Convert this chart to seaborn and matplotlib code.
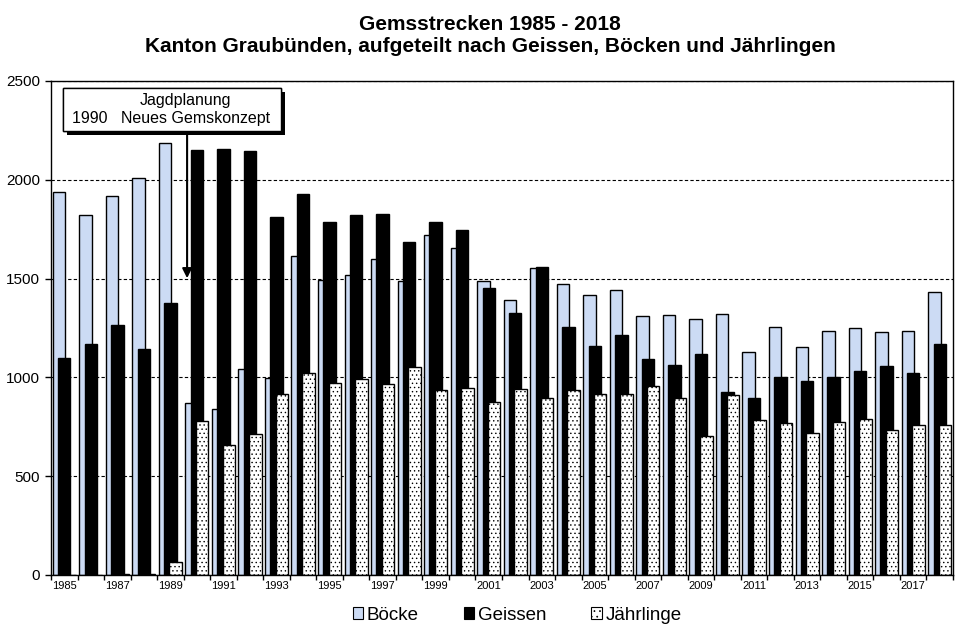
import pandas as pd
import matplotlib as mpl
import matplotlib.pyplot as plt
import matplotlib.patheffects as pe
from matplotlib.patches import Patch, Rectangle
import seaborn as sns

# Gemsstrecken Graubünden 1985 - 2018
jahre = list(range(1985, 2019))
boecke = [1936, 1820, 1916, 2007, 2184, 869, 838, 1041, 998, 1614,
          1493, 1516, 1599, 1486, 1720, 1655, 1486, 1390, 1553, 1471,
          1415, 1441, 1309, 1314, 1294, 1319, 1127, 1253, 1152, 1235,
          1248, 1230, 1235, 1430]
geissen = [1098, 1169, 1265, 1144, 1376, 2150, 2155, 2145, 1812, 1930,
           1786, 1822, 1827, 1685, 1786, 1746, 1452, 1326, 1558, 1255,
           1159, 1214, 1093, 1063, 1118, 926, 896, 1002, 982, 1000,
           1032, 1058, 1022, 1169]
jaehrlinge = [0, 0, 6, 6, 64, 778, 656, 712, 915, 1021,
              970, 992, 965, 1051, 936, 945, 874, 941, 894, 934,
              914, 914, 955, 894, 702, 909, 783, 768, 717, 773,
              788, 732, 757, 757]
arten = ['Böcke', 'Geissen', 'Jährlinge']
farben = {'Böcke': '#CCDBF4', 'Geissen': '#000000', 'Jährlinge': '#FFFFFF'}

df = pd.DataFrame({
    'Jahr': jahre * 3,
    'Anzahl': boecke + geissen + jaehrlinge,
    'Art': ['Böcke'] * len(jahre) + ['Geissen'] * len(jahre) + ['Jährlinge'] * len(jahre),
})

sns.set_theme(style='ticks')
plt.rcParams['font.family'] = ['Liberation Sans', 'DejaVu Sans']
plt.rcParams['hatch.linewidth'] = 0.5
plt.rcParams['axes.edgecolor'] = 'black'
plt.rcParams['axes.linewidth'] = 1.0
plt.rcParams['text.color'] = 'black'
plt.rcParams['xtick.color'] = 'black'
plt.rcParams['ytick.color'] = 'black'

fig = plt.figure(figsize=(9.61, 6.35), dpi=100)
ax = fig.add_axes([51 / 961, 1 - 575 / 635, 902 / 961, 494 / 635])

sns.barplot(data=df, x='Jahr', y='Anzahl', hue='Art', hue_order=arten,
            palette=farben, width=0.6, dodge=True, legend=False,
            edgecolor='black', linewidth=1.0, saturation=1, ax=ax)

# Balken überlappen lassen (wie im Original)
breite = 0.47
for i, bar in enumerate(ax.patches):
    mitte = bar.get_x() + bar.get_width() / 2
    bar.set_width(breite)
    bar.set_x(mitte - breite / 2)
    if i >= 2 * len(jahre):
        bar.set_hatch('....')

# Achsen
ax.set_xlim(-0.5, len(jahre) - 0.5)
ax.set_ylim(0, 2500)
ax.set_yticks([0, 500, 1000, 1500, 2000, 2500])
ax.tick_params(axis='y', labelsize=11, length=4, width=1, direction='out', pad=4)
ax.set_xticks(range(0, len(jahre), 2))
ax.set_xticklabels([str(j) for j in jahre[::2]])
ax.set_xticks([i - 0.5 for i in range(len(jahre) + 1)], minor=True)
ax.tick_params(axis='x', which='major', length=0, labelsize=8, pad=4)
ax.tick_params(axis='x', which='minor', length=3.5, width=1, direction='out')
ax.set_xlabel('')
ax.set_ylabel('')
for s in ax.spines.values():
    s.set_visible(True)
    s.set_color('black')
ax.yaxis.grid(True, linestyle=(0, (3, 2)), color='black', linewidth=0.8)
ax.set_axisbelow(True)

# Titel
fig.text(0.51, 1 - 35 / 635, 'Gemsstrecken 1985 - 2018\nKanton Graubünden, aufgeteilt nach Geissen, Böcken und Jährlingen',
         ha='center', va='center', fontsize=15, fontweight='bold', linespacing=1.2)

# Hinweis-Box Jagdplanung
box = Rectangle((0.0133, 0.8988), 0.2417, 0.087, transform=ax.transAxes,
                facecolor='white', edgecolor='black', linewidth=1.0, zorder=5,
                path_effects=[pe.withSimplePatchShadow(offset=(3, -3), shadow_rgbFace='black', alpha=1), pe.Normal()])
ax.add_patch(box)
ax.text(0.149, 0.9615, 'Jagdplanung', transform=ax.transAxes, ha='center', va='center',
        fontsize=11.5, zorder=6)
ax.text(0.1336, 0.925, '1990   Neues Gemskonzept', transform=ax.transAxes, ha='center', va='center',
        fontsize=11.5, zorder=6)
ax.annotate('', xy=(4.63, 1488), xytext=(4.63, 2247),
            arrowprops=dict(arrowstyle='-|>', color='black', lw=1.5, mutation_scale=14), zorder=6)

# Legende
handles = [Patch(facecolor=farben[a], edgecolor='black', linewidth=0.8,
                 hatch='...' if a == 'Jährlinge' else None) for a in arten]
fig.legend(handles, arten, loc='center', bbox_to_anchor=(517 / 961, 1 - 615 / 635), ncol=3,
           frameon=False, fontsize=13.5, handlelength=0.55, handleheight=0.55,
           handletextpad=0.2, columnspacing=2.4)

fig.savefig('out.png', dpi=100)
